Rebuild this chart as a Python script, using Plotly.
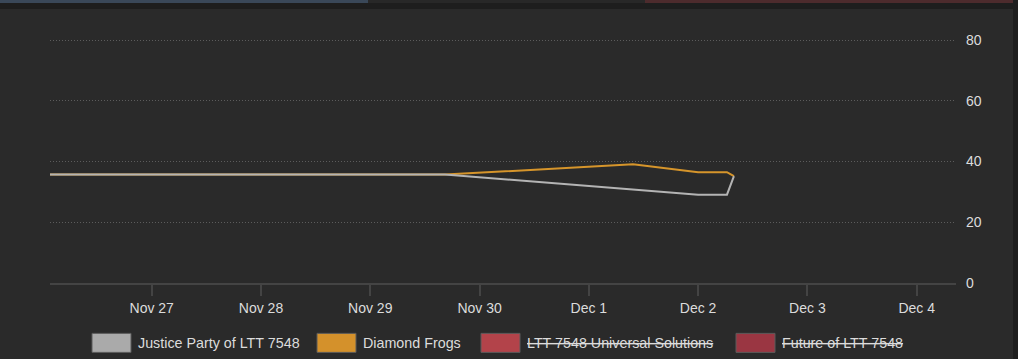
import plotly.graph_objects as go

# ---------------- data ----------------
justice_x = ["2023-11-26 01:40", "2023-11-29 16:24", "2023-12-02 00:00",
             "2023-12-02 06:20", "2023-12-02 07:52"]
justice_y = [35.7, 35.7, 29.1, 29.1, 35.2]

frogs_x = ["2023-11-26 01:40", "2023-11-29 16:24", "2023-12-01 09:42",
           "2023-12-02 00:00", "2023-12-02 06:20", "2023-12-02 07:52"]
frogs_y = [35.7, 35.7, 39.1, 36.5, 36.5, 35.2]

series_names = ["Justice Party of LTT 7548", "Diamond Frogs",
                "LTT 7548 Universal Solutions", "Future of LTT 7548"]
series_hidden = [False, False, True, True]
series_colors = ["#aaaaaa", "#d4912b", "#b3434a", "#9a3642"]
line_colors = ["#b4b4b4", "#d6952b"]

y_ticks = [0, 20, 40, 60, 80]

# ---------------- geometry ----------------
W, H = 1018, 359
L, R = 50, 956          # plot area px
T, B = 34, 282.7


def px(x):
    return (x - L) / (R - L)


def py(y):
    return (B - y) / (B - T)


fig = go.Figure()
fig.add_trace(go.Scatter(x=frogs_x, y=frogs_y, mode="lines", name=series_names[1],
                         line=dict(color=line_colors[1], width=2), showlegend=False))
fig.add_trace(go.Scatter(x=justice_x, y=justice_y, mode="lines", name=series_names[0],
                         line=dict(color=line_colors[0], width=2), showlegend=False))

shapes = []
# outer dark frame
shapes.append(dict(type="rect", xref="paper", yref="paper", x0=px(0), x1=px(W),
                   y0=py(0), y1=py(9), fillcolor="#1e1e1e", line=dict(width=0), layer="below"))
shapes.append(dict(type="rect", xref="paper", yref="paper", x0=px(1013), x1=px(W),
                   y0=py(0), y1=py(H), fillcolor="#1e1e1e", line=dict(width=0), layer="below"))
# top strips
shapes.append(dict(type="rect", xref="paper", yref="paper", x0=px(0), x1=px(368),
                   y0=py(0), y1=py(3), fillcolor="#3a4859", line=dict(width=0), layer="below"))
shapes.append(dict(type="rect", xref="paper", yref="paper", x0=px(368), x1=px(645),
                   y0=py(0), y1=py(3), fillcolor="#282828", line=dict(width=0), layer="below"))
shapes.append(dict(type="rect", xref="paper", yref="paper", x0=px(645), x1=px(1013),
                   y0=py(0), y1=py(3), fillcolor="#4d2b2d", line=dict(width=0), layer="below"))

annotations = []
# manual legend
rect_x = [92, 317, 481, 736]
for i, name in enumerate(series_names):
    x0 = rect_x[i]
    shapes.append(dict(type="rect", xref="paper", yref="paper", x0=px(x0), x1=px(x0 + 39),
                       y0=py(352), y1=py(333), fillcolor=series_colors[i],
                       line=dict(color="#5a5a5a", width=1)))
    label = f"<s>{name}</s>" if series_hidden[i] else name
    annotations.append(dict(xref="paper", yref="paper", x=px(x0 + 44), y=py(342.5),
                            xanchor="left", yanchor="middle", showarrow=False, text=label,
                            font=dict(family="Liberation Sans, Arial, sans-serif",
                                      size=14.3, color="#dcdcdc")))

fig.update_layout(
    width=W, height=H,
    margin=dict(l=L, r=W - R, t=T, b=H - B, pad=0),
    paper_bgcolor="#2a2a2a", plot_bgcolor="#2a2a2a",
    font=dict(family="Liberation Sans, Arial, sans-serif", size=14, color="#dcdcdc"),
    showlegend=False,
    shapes=shapes, annotations=annotations,
    xaxis=dict(type="date", range=["2023-11-26 01:40", "2023-12-04 08:38"],
               tick0="2023-11-27", dtick=86400000, tickformat="%b %-d",
               showgrid=False, zeroline=False, showline=True, linecolor="#444444",
               linewidth=2, ticks="outside", ticklen=11, tickwidth=2, tickcolor="#444444",
               tickfont=dict(size=14, color="#dcdcdc")),
    yaxis=dict(side="right", range=[0, 82], tickvals=y_ticks, ticks="",
               showgrid=True, gridcolor="#5c5c5c", gridwidth=1, griddash="1px,2px",
               zeroline=False, showline=False, ticklabelstandoff=9,
               tickfont=dict(size=14, color="#dcdcdc")),
)

fig.write_html("out.html",
               config={"displayModeBar": False},
               post_script="document.body.style.margin='0';"
                           "document.body.style.background='#1e1e1e';")
